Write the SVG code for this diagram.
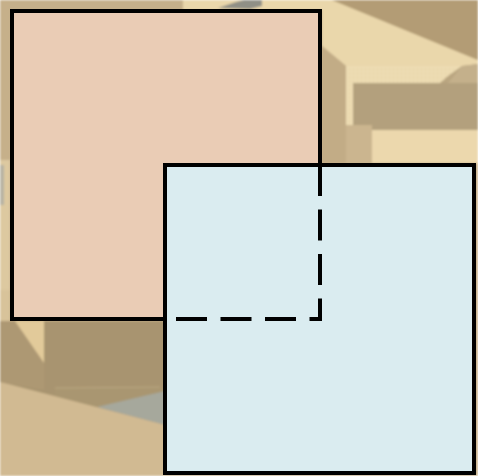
<svg xmlns="http://www.w3.org/2000/svg" width="478" height="476" viewBox="0 0 478 476">
  <defs>
    <filter id="soft" x="-5%" y="-5%" width="110%" height="110%">
      <feGaussianBlur stdDeviation="0.8"/>
    </filter>
    <pattern id="dots" width="4" height="4" patternUnits="userSpaceOnUse">
      <rect width="4" height="4" fill="#eddcb2"/>
      <rect x="1" y="1" width="1" height="1" fill="#d9c79c"/>
    </pattern>
  </defs>
  <style>
    .box { stroke: #000; stroke-width: 4; }
    .hidden { fill: none; stroke: #000; stroke-width: 4; stroke-dasharray: 31 13.5; }
  </style>

  <g id="background" filter="url(#soft)">
    <rect x="0" y="0" width="478" height="476" fill="#c6b08a"/>
    <!-- top strip -->
    <polygon points="183,0 332,0 478,60 478,64 462,67 346,66 322,46 322,10 183,10" fill="#ead7ab"/>
    <polygon points="218,8 236,2 244,0 262,0 262,6 250,9" fill="#8f8f86"/>
    <polygon points="332,0 478,0 478,60" fill="#b39c74"/>
    <!-- left window -->
    <rect x="0" y="160" width="10" height="130" fill="#ddc9a0"/>
    <rect x="0" y="165" width="4" height="40" fill="#b8b3a3"/>
    <rect x="0" y="290" width="10" height="32" fill="#d8c39a"/>
    <!-- right scene -->
    <polygon points="322,46 346,66 346,163 322,163" fill="#c2ac86"/>
    <polygon points="346,66 462,66 478,64 478,163 346,163" fill="#b9a580"/>
    <polygon points="346,66 462,66 448,76 440,83 353,83 353,125 346,125" fill="url(#dots)"/>
    <polygon points="462,66 478,64 478,85 448,83" fill="#c4b08b"/>
    <rect x="353" y="83" width="125" height="47" fill="#b3a07d"/>
    <rect x="346" y="125" width="26" height="38" fill="#cbb58f"/>
    <rect x="372" y="130" width="106" height="33" fill="#ecd8ad"/>
    <!-- bottom-left scene -->
    <polygon points="0,321 165,321 165,425 0,382" fill="#a8946f"/>
    <polygon points="0,321 15,321 44,363 44,390 0,382" fill="#ad9873"/>
    <polygon points="15,321 44,321 44,363" fill="#e2ca9a"/>
    <polygon points="55,388 165,388 165,392 97,407 55,396" fill="#a99671"/>
    <line x1="55" y1="388" x2="160" y2="387" stroke="#bca883" stroke-width="1"/>
    <polygon points="97,407 165,391 165,425" fill="#a6a89c"/>
    <polygon points="0,382 165,425 165,476 0,476" fill="#d1ba92"/>
  </g>

  <g id="node-a">
    <rect class="box" x="12" y="11" width="308" height="308" fill="#eaccb5"/>
  </g>

  <g id="node-b">
    <rect class="box" x="165" y="165" width="309" height="308" fill="#daecf0"/>
  </g>

  <g id="connectors">
    <path class="hidden" d="M320,165 V319 H165"/>
  </g>
</svg>
